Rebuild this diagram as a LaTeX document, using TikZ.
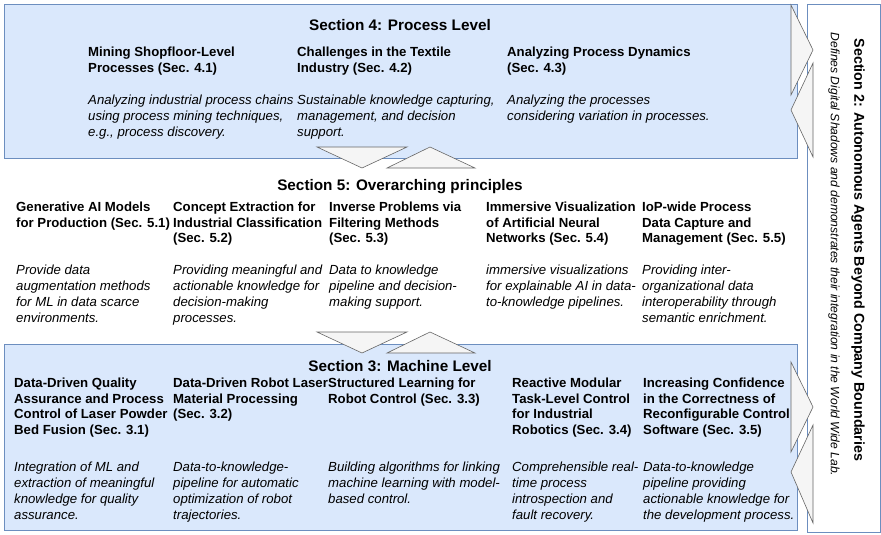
\documentclass[tikz,border=0pt]{standalone}
\usepackage{fontspec}
\setmainfont{Liberation Sans}
\usetikzlibrary{positioning}

\definecolor{lvlfill}{HTML}{DAE8FC}
\definecolor{lvldraw}{HTML}{6C8EBF}
\definecolor{trifill}{HTML}{F5F5F5}
\definecolor{tridraw}{HTML}{666666}

\begin{document}
\begin{tikzpicture}[x=1pt,y=-1pt,
	lvlbox/.style={draw=lvldraw,fill=lvlfill,line width=0.9pt},
	sidebox/.style={draw=lvldraw,fill=white,line width=0.9pt},
	tri/.style={draw=tridraw,fill=trifill,line width=0.6pt},
	sechead/.style={anchor=base,inner sep=0pt,font=\fontsize{15.3}{18}\selectfont\bfseries},
	ttl/.style={anchor=north west,inner sep=0pt,align=left,font=\fontsize{13.2}{15.5}\selectfont\bfseries},
	dsc/.style={anchor=north west,inner sep=0pt,align=left,font=\fontsize{13.2}{16}\selectfont\itshape}]
		\useasboundingbox (0,0) rectangle (881,535);
		% the three levels and the side box
		\draw[lvlbox] (4,4) rectangle (797,158);
		\draw[lvlbox] (4,344) rectangle (797,530);
		\draw[sidebox] (807,4) rectangle (880,532);
		%
		\draw[tri] (317,147)--(407,147)--(362,168)--cycle;
		\draw[tri] (387,168)--(475,168)--(430,147)--cycle;
		\draw[tri] (317,332)--(407,332)--(362,353)--cycle;
		\draw[tri] (387,353)--(475,353)--(430,332)--cycle;
		\draw[tri] (791,5)--(791,95)--(813,50)--cycle;
		\draw[tri] (813,63)--(813,157)--(791,110)--cycle;
		\draw[tri] (791,362)--(791,452)--(813,407)--cycle;
		\draw[tri] (813,425)--(813,523)--(791,472)--cycle;
		%
		% Section 4
		\node[sechead] (proc) at (400,30.5){\vphantom{(}Section 4: Process Level};
		\node[ttl] (p1) at (88,47){\vphantom{(}Mining Shopfloor-Level\\Processes (Sec. 4.1)};
		\node[ttl] (p2) at (297,47){\vphantom{(}Challenges in the Textile\\Industry (Sec. 4.2)};
		\node[ttl] (p3) at (507,47){\vphantom{(}Analyzing Process Dynamics\\(Sec. 4.3)};
		\node[dsc] (pd1) at (88,94.5){\vphantom{(}Analyzing industrial process chains\\using process mining techniques,\\e.g., process discovery.};
		\node[dsc] (pd2) at (297,94.5){\vphantom{(}Sustainable knowledge capturing,\\management, and decision\\support.};
		\node[dsc] (pd3) at (507,94.5){\vphantom{(}Analyzing the processes\\considering variation in processes.};
		%
		% Section 5
		\node[sechead] (over) at (400,190.5){Section 5: Overarching principles};
		\node[ttl] (o1) at (16,202){\vphantom{(}Generative AI Models\\for Production (Sec. 5.1)};
		\node[ttl] (o2) at (173,202){\vphantom{(}Concept Extraction for\\Industrial Classification\\(Sec. 5.2)};
		\node[ttl] (o3) at (329,202){\vphantom{(}Inverse Problems via\\Filtering Methods\\(Sec. 5.3)};
		\node[ttl] (o4) at (486,202){\vphantom{(}Immersive Visualization\\of Artificial Neural\\Networks (Sec. 5.4)};
		\node[ttl] (o5) at (642,202){\vphantom{(}IoP-wide Process\\Data Capture and\\Management (Sec. 5.5)};
		\node[dsc] (od1) at (16,265){\vphantom{(}Provide data\\augmentation methods\\for ML in data scarce\\environments.};
		\node[dsc] (od2) at (173,265){\vphantom{(}Providing meaningful and\\actionable knowledge for\\decision-making\\processes.};
		\node[dsc] (od3) at (329,265){\vphantom{(}Data to knowledge\\pipeline and decision-\\making support.};
		\node[dsc] (od4) at (486,265){\vphantom{(}immersive visualizations\\for explainable AI in data-\\to-knowledge pipelines.};
		\node[dsc] (od5) at (642,265){\vphantom{(}Providing inter-\\organizational data\\interoperability through\\semantic enrichment.};
		%
		% Section 3
		\node[sechead] (mach) at (400,371.5){Section 3: Machine Level};
		\node[ttl] (m1) at (14,378){\vphantom{(}Data-Driven Quality\\Assurance and Process\\Control of Laser Powder\\Bed Fusion (Sec. 3.1)};
		\node[ttl] (m2) at (173,378){\vphantom{(}Data-Driven Robot Laser\\Material Processing\\(Sec. 3.2)};
		\node[ttl] (m3) at (328,378){\vphantom{(}Structured Learning for\\Robot Control (Sec. 3.3)};
		\node[ttl] (m4) at (512,378){\vphantom{(}Reactive Modular\\Task-Level Control\\for Industrial\\Robotics (Sec. 3.4)};
		\node[ttl] (m5) at (643,378){\vphantom{(}Increasing Confidence\\in the Correctness of\\Reconfigurable Control\\Software (Sec. 3.5)};
		\node[dsc] (md1) at (14,462){\vphantom{(}Integration of ML and\\extraction of meaningful\\knowledge for quality\\assurance.};
		\node[dsc] (md2) at (173,462){\vphantom{(}Data-to-knowledge-\\pipeline for automatic\\optimization of robot\\trajectories.};
		\node[dsc] (md3) at (328,462){\vphantom{(}Building algorithms for linking\\machine learning with model-\\based control.};
		\node[dsc] (md4) at (512,462){\vphantom{(}Comprehensible real-\\time process\\introspection and\\fault recovery.};
		\node[dsc] (md5) at (643,462){\vphantom{(}Data-to-knowledge\\pipeline providing\\actionable knowledge for\\the development process.};
		%
		% Section 2, rotated
		\node[rotate=-90,inner sep=0pt,font=\fontsize{14.3}{17}\selectfont\bfseries] (auto) at (858,250){Section 2: Autonomous Agents Beyond Company Boundaries};
		\node[rotate=-90,inner sep=0pt,font=\fontsize{12.1}{14}\selectfont\itshape] (wwl) at (834,254.5){Defines Digital Shadows and demonstrates their integration in the World Wide Lab.};
	\end{tikzpicture}
\end{document}
